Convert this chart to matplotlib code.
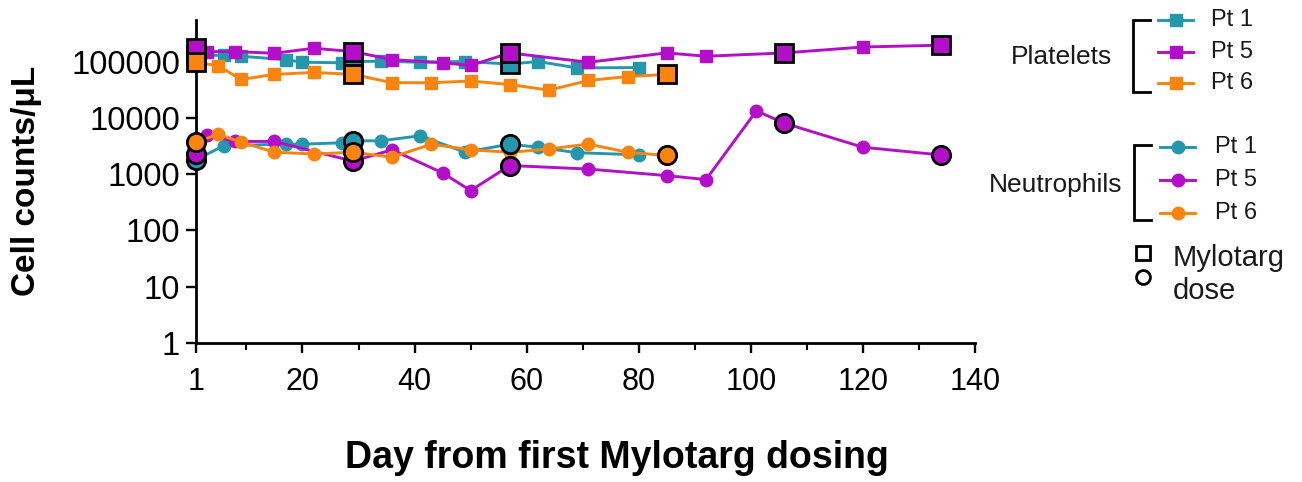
import matplotlib
matplotlib.use("Agg")
import matplotlib.pyplot as plt
from matplotlib.ticker import FixedLocator, NullFormatter, NullLocator

plt.rcParams['font.family'] = ['Liberation Sans', 'DejaVu Sans']

# ---------------- data ----------------
patients = ["Pt 1", "Pt 5", "Pt 6"]
colors = {"Pt 1": "#2497AD", "Pt 5": "#B40FC8", "Pt 6": "#F98410"}

# Platelets (cells/uL)
plt_days_pt1 = [1, 6, 9, 17, 20, 27, 29, 34, 41, 49, 57, 62, 69, 80]
plt_vals_pt1 = [130000, 128000, 124000, 108000, 97000, 95000, 100000, 101000, 97000, 100000, 90000, 100000, 77000, 78000]
plt_days_pt5 = [1, 3, 8, 15, 22, 29, 36, 45, 50, 57, 71, 85, 92, 106, 120, 134]
plt_vals_pt5 = [175000, 150000, 150000, 140000, 172000, 150000, 108000, 95000, 85000, 142000, 97000, 142000, 124000, 142000, 181000, 195000]
plt_days_pt6 = [1, 5, 9, 15, 22, 29, 36, 43, 50, 57, 64, 71, 78, 85]
plt_vals_pt6 = [97000, 84000, 48000, 59000, 64000, 59000, 42000, 42000, 45000, 39000, 31000, 46000, 54000, 59000]

# Neutrophils (cells/uL)
neu_days_pt1 = [1, 6, 17, 20, 27, 29, 34, 41, 49, 57, 62, 69, 80]
neu_vals_pt1 = [1800, 3200, 3400, 3400, 3600, 3900, 3900, 4800, 2450, 3400, 3000, 2400, 2200]
neu_days_pt5 = [1, 3, 8, 15, 29, 36, 45, 50, 57, 71, 85, 92, 101, 106, 120, 134]
neu_vals_pt5 = [2300, 5000, 3800, 3800, 1700, 2700, 1050, 510, 1420, 1230, 940, 800, 13300, 8000, 3000, 2185]
neu_days_pt6 = [1, 5, 9, 15, 22, 29, 36, 43, 50, 57, 64, 71, 78, 85]
neu_vals_pt6 = [3700, 5100, 3700, 2450, 2280, 2440, 2000, 3400, 2700, 2440, 2790, 3420, 2440, 2140]

# Mylotarg dose days
dose_days = {"Pt 1": [1, 29, 57], "Pt 5": [1, 29, 57, 106, 134], "Pt 6": [1, 29, 85]}

platelets = {"Pt 1": (plt_days_pt1, plt_vals_pt1),
             "Pt 5": (plt_days_pt5, plt_vals_pt5),
             "Pt 6": (plt_days_pt6, plt_vals_pt6)}
neutrophils = {"Pt 1": (neu_days_pt1, neu_vals_pt1),
               "Pt 5": (neu_days_pt5, neu_vals_pt5),
               "Pt 6": (neu_days_pt6, neu_vals_pt6)}

x_ticks = [1, 20, 40, 60, 80, 100, 120, 140]
x_minor = [10, 30, 50, 70, 90, 110, 130]
y_ticks = [1, 10, 100, 1000, 10000, 100000]
y_labels = ["1", "10", "100", "1000", "10000", "100000"]

# ---------------- figure ----------------
W, H = 1302, 482
fig = plt.figure(figsize=(W / 100, H / 100), dpi=100)
ax = fig.add_axes([196 / W, (H - 343) / H, 779 / W, 323 / H])

lw = 2.1
ms = 9.0
ms_dose = 13.2

def draw(series, marker, z0):
    for i, p in enumerate(patients):
        d, v = series[p]
        c = colors[p]
        ax.plot(d, v, color=c, lw=lw, marker=marker, ms=ms, mec=c, mfc=c,
                zorder=z0 + i, clip_on=False)
    for i, p in enumerate(patients):
        d, v = series[p]
        c = colors[p]
        dd = [x for x in d if x in dose_days[p]]
        dv = [v[d.index(x)] for x in dd]
        ax.plot(dd, dv, ls='none', marker=marker, ms=ms_dose, mfc=c, mec='black',
                mew=2.0, zorder=z0 + 10 + i, clip_on=False)

draw(platelets, 's', 3)
draw(neutrophils, 'o', 3)

ax.set_yscale('log')
ax.set_ylim(1, 546000)
ax.set_xlim(1, 140)
ax.yaxis.set_major_locator(FixedLocator(y_ticks))
ax.set_yticklabels(y_labels)
ax.yaxis.set_minor_locator(NullLocator())
ax.yaxis.set_minor_formatter(NullFormatter())
ax.xaxis.set_major_locator(FixedLocator(x_ticks))
ax.set_xticklabels([str(t) for t in x_ticks])
ax.xaxis.set_minor_locator(FixedLocator(x_minor))

for s in ['top', 'right']:
    ax.spines[s].set_visible(False)
for s in ['left', 'bottom']:
    ax.spines[s].set_linewidth(2.0)
ax.tick_params(axis='y', which='major', length=7.5, width=1.7, labelsize=23.5, pad=4, colors='black')
ax.tick_params(axis='x', which='major', length=7.5, width=1.7, labelsize=22, pad=10, colors='black')
ax.tick_params(axis='x', which='minor', length=5, width=1.5)

fig.text(617 / W, 1 - 458 / H, "Day from first Mylotarg dosing", ha='center', va='center',
         fontsize=27, fontweight='bold')
fig.text(27 / W, 1 - 181 / H, "Cell counts/μL", ha='center', va='center', rotation=90,
         fontsize=24, fontweight='bold')

# ---------------- custom legend ----------------
lg = fig.add_axes([0, 0, 1, 1])
lg.set_xlim(0, W)
lg.set_ylim(H, 0)
lg.axis('off')
lg.patch.set_visible(False)

def bracket(x, y0, y1, arm):
    lg.plot([x + arm, x, x, x + arm], [y0, y0, y1, y1], color='black', lw=2.0,
            solid_joinstyle='miter')

def group(title, title_right, title_y, bx, by0, by1, lx0, lx1, ys, tx, marker):
    lg.text(title_right, title_y, title, ha='right', va='center', fontsize=19, color='#1a1a1a')
    bracket(bx, by0, by1, 17)
    for p, y in zip(patients, ys):
        c = colors[p]
        lg.plot([lx0, lx1], [y, y], color=c, lw=lw)
        lg.plot([(lx0 + lx1) / 2], [y], marker=marker, ms=ms, color=c, ls='none')
        lg.text(tx, y, p, ha='left', va='center', fontsize=17, color='#1a1a1a')

group("Platelets", 1112, 57, 1133, 20, 92, 1158, 1193, [20, 52, 83], 1211, 's')
group("Neutrophils", 1122, 185, 1134, 145, 220, 1160, 1195, [147, 180, 213], 1215, 'o')

lg.plot([1143], [253], marker='s', ms=10, mfc='white', mec='black', mew=2.0, ls='none')
lg.plot([1143], [277], marker='o', ms=10, mfc='white', mec='black', mew=2.0, ls='none')
lg.text(1173, 258, "Mylotarg", ha='left', va='center', fontsize=21, color='#1a1a1a')
lg.text(1173, 291, "dose", ha='left', va='center', fontsize=21, color='#1a1a1a')

fig.savefig("out.png", dpi=100)
